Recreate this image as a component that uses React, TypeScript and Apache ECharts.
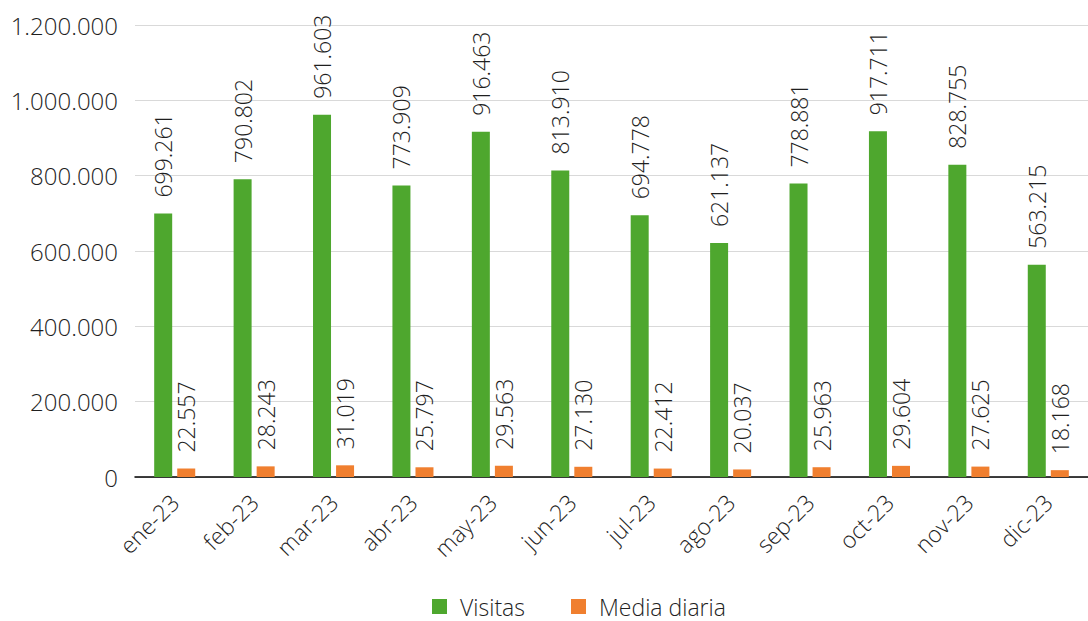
import React, { useEffect, useRef } from "react";
import * as echarts from "echarts";

const categories = ["ene-23", "feb-23", "mar-23", "abr-23", "may-23", "jun-23", "jul-23", "ago-23", "sep-23", "oct-23", "nov-23", "dic-23"];
const visitas = [699261, 790802, 961603, 773909, 916463, 813910, 694778, 621137, 778881, 917711, 828755, 563215];
const mediaDiaria = [22557, 28243, 31019, 25797, 29563, 27130, 22412, 20037, 25963, 29604, 27625, 18168];

const FONT = "'Open Sans', 'Noto Sans', sans-serif";
const TXT = "#1f1f1f";
const W = 300;
const fmt = (v: number) => String(Math.round(v)).replace(/\B(?=(\d{3})+(?!\d))/g, ".");

export default function App() {
  const ref = useRef<HTMLDivElement>(null);
  useEffect(() => {
    if (!ref.current) return;
    const chart = echarts.init(ref.current, undefined, { renderer: "svg" });
    const label = {
      show: true,
      position: "top" as const,
      rotate: 90,
      align: "left" as const,
      verticalAlign: "middle" as const,
      distance: 16,
      fontFamily: FONT,
      fontWeight: W,
      fontSize: 23,
      color: TXT,
      formatter: (p: any) => fmt(p.value),
    };
    chart.setOption({
      animation: false,
      textStyle: { fontFamily: FONT },
      grid: { left: 135, right: 0, top: 25, bottom: 144, containLabel: false },
      legend: {
        top: 590,
        left: 427,
        itemWidth: 15,
        itemHeight: 15,
        itemGap: 46,
        icon: "rect",
        textStyle: { fontFamily: FONT, fontWeight: W, fontSize: 23, color: TXT, padding: [0, 0, 0, 8] },
        data: ["Visitas", "Media diaria"],
      },
      xAxis: {
        type: "category",
        data: categories,
        axisTick: { show: false },
        axisLine: { lineStyle: { color: "#000", width: 1.5 } },
        axisLabel: { rotate: 45, fontFamily: FONT, fontWeight: W, fontSize: 23, color: TXT, margin: 21, interval: 0 },
      },
      yAxis: {
        type: "value",
        min: 0,
        max: 1200000,
        interval: 200000,
        axisLine: { show: false },
        axisTick: { show: false },
        splitLine: { lineStyle: { color: "#d9d9d9", width: 1 } },
        axisLabel: { fontFamily: FONT, fontWeight: W, fontSize: 24, color: TXT, margin: 17, formatter: (v: number) => fmt(v) },
      },
      series: [
        {
          name: "Visitas",
          type: "bar",
          data: visitas,
          barWidth: 18,
          barGap: "28%",
          itemStyle: { color: "#4ea72e" },
          label,
        },
        {
          name: "Media diaria",
          type: "bar",
          data: mediaDiaria,
          barWidth: 18,
          itemStyle: { color: "#f07f2f" },
          label,
        },
      ],
    });
    return () => chart.dispose();
  }, []);
  return <div ref={ref} style={{ width: 1088, height: 621, position: "absolute", left: 0, top: 0 }} />;
}
